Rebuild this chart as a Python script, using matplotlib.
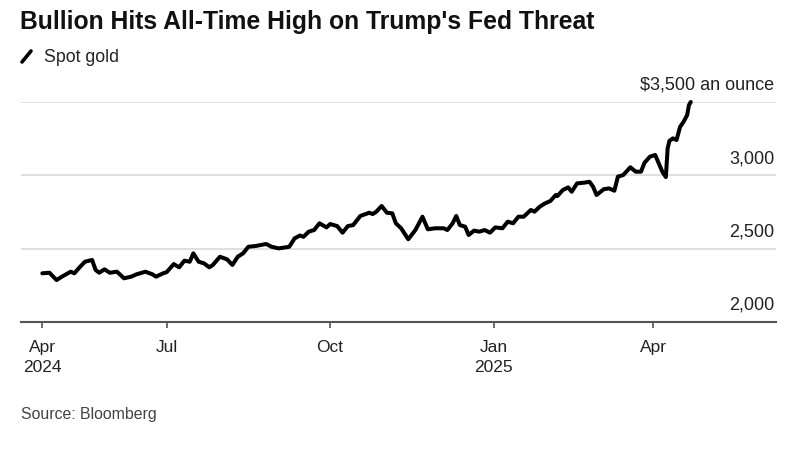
import matplotlib
matplotlib.use("Agg")
import matplotlib.pyplot as plt
import matplotlib.dates as mdates
import matplotlib.transforms as mtransforms
import pandas as pd

# ---------------- data ----------------
dates = [
    "2024-04-22", "2024-04-26", "2024-04-30", "2024-05-03", "2024-05-08", "2024-05-10",
    "2024-05-13", "2024-05-16", "2024-05-20", "2024-05-22", "2024-05-24", "2024-05-27",
    "2024-05-30", "2024-06-03", "2024-06-07", "2024-06-11", "2024-06-14", "2024-06-19",
    "2024-06-23", "2024-06-25", "2024-06-29", "2024-07-01", "2024-07-05", "2024-07-08",
    "2024-07-11", "2024-07-14", "2024-07-16", "2024-07-19", "2024-07-22", "2024-07-25",
    "2024-07-27", "2024-07-31", "2024-08-04", "2024-08-07", "2024-08-10", "2024-08-13",
    "2024-08-16", "2024-08-20", "2024-08-23", "2024-08-26", "2024-08-29", "2024-09-02",
    "2024-09-06", "2024-09-08", "2024-09-11", "2024-09-14", "2024-09-16", "2024-09-19",
    "2024-09-22", "2024-09-25", "2024-09-29", "2024-10-01", "2024-10-05", "2024-10-08",
    "2024-10-11", "2024-10-14", "2024-10-18", "2024-10-21", "2024-10-23", "2024-10-25",
    "2024-10-27", "2024-10-30", "2024-11-02", "2024-11-05", "2024-11-07", "2024-11-10",
    "2024-11-14", "2024-11-18", "2024-11-22", "2024-11-25", "2024-11-29", "2024-12-04",
    "2024-12-06", "2024-12-09", "2024-12-11", "2024-12-13", "2024-12-16", "2024-12-18",
    "2024-12-21", "2024-12-24", "2024-12-27", "2024-12-30", "2025-01-02", "2025-01-06",
    "2025-01-09", "2025-01-12", "2025-01-15", "2025-01-18", "2025-01-22", "2025-01-24",
    "2025-01-27", "2025-01-30", "2025-02-02", "2025-02-05", "2025-02-06", "2025-02-09",
    "2025-02-12", "2025-02-14", "2025-02-17", "2025-02-21", "2025-02-24", "2025-02-26",
    "2025-02-28", "2025-03-04", "2025-03-07", "2025-03-10", "2025-03-12", "2025-03-15",
    "2025-03-19", "2025-03-22", "2025-03-25", "2025-03-27", "2025-03-30", "2025-04-02",
    "2025-04-04", "2025-04-06", "2025-04-08", "2025-04-09", "2025-04-10", "2025-04-12",
    "2025-04-14", "2025-04-16", "2025-04-18", "2025-04-20", "2025-04-21", "2025-04-22",
]
spot_gold = [
    2332, 2336, 2286, 2309, 2343, 2332,
    2373, 2411, 2423, 2355, 2336, 2359,
    2336, 2343, 2298, 2309, 2325, 2343,
    2325, 2309, 2332, 2340, 2395, 2373,
    2418, 2411, 2468, 2411, 2400, 2373,
    2389, 2445, 2427, 2389, 2445, 2468,
    2513, 2518, 2525, 2532, 2513, 2502,
    2509, 2513, 2570, 2590, 2581, 2616,
    2627, 2673, 2645, 2668, 2654, 2609,
    2654, 2661, 2723, 2736, 2745, 2736,
    2752, 2791, 2745, 2741, 2673, 2639,
    2564, 2627, 2718, 2632, 2639, 2639,
    2627, 2673, 2723, 2661, 2650, 2593,
    2623, 2616, 2627, 2609, 2645, 2639,
    2684, 2673, 2718, 2718, 2764, 2752,
    2786, 2809, 2825, 2866, 2859, 2900,
    2918, 2888, 2945, 2950, 2956, 2923,
    2866, 2905, 2911, 2895, 2991, 3002,
    3055, 3025, 3025, 3086, 3127, 3139,
    3082, 3025, 2988, 3184, 3235, 3252,
    3241, 3330, 3366, 3411, 3479, 3500,
]
xtick_dates = ["2024-04-22", "2024-07-01", "2024-10-01", "2025-01-01", "2025-04-01"]
xtick_labels = ["Apr\n2024", "Jul", "Oct", "Jan\n2025", "Apr"]
ytick_values = [2000, 2500, 3000, 3500]
ytick_labels = ["2,000", "2,500", "3,000", "$3,500 an ounce"]

title = "Bullion Hits All-Time High on Trump's Fed Threat"
legend_label = "Spot gold"
source = "Source: Bloomberg"

# ---------------- figure ----------------
plt.rcParams["font.family"] = ["Liberation Sans", "DejaVu Sans"]
W, H = 800, 458
fig = plt.figure(figsize=(W / 100, H / 100), dpi=100)
ax = fig.add_axes([21 / W, (H - 322) / H, (776 - 21) / W, (322 - 102) / H])

x = pd.to_datetime(dates)
ax.plot(x, spot_gold, color="#000000", lw=2.9, solid_joinstyle="round",
        solid_capstyle="round", zorder=3, clip_on=False)

ax.set_ylim(2000, 3500)
ax.set_xlim(pd.Timestamp("2024-04-10"), pd.Timestamp("2025-06-09"))

# gridlines
for v in ytick_values[1:]:
    ax.axhline(v, color="#dcdcdc", lw=1.3, zorder=1)

for s in ["top", "right", "left"]:
    ax.spines[s].set_visible(False)
ax.spines["bottom"].set_color("#555555")
ax.spines["bottom"].set_linewidth(1.5)

ax.set_yticks([])
ax.set_xticks(pd.to_datetime(xtick_dates))
ax.set_xticklabels(xtick_labels, fontsize=12.5, color="#222222",
                   linespacing=1.45, ha="center", multialignment="center")
ax.tick_params(axis="x", direction="out", length=4, width=1.2,
               color="#555555", pad=9)

# y labels above gridlines on the right
ytrans = mtransforms.offset_copy(ax.get_yaxis_transform(), fig=fig, x=-1, y=12, units="points")
for v, lab in zip(ytick_values, ytick_labels):
    ax.text(1.0, v, lab, transform=ytrans, ha="right", va="center",
            fontsize=13, color="#222222")

# title, legend, source
fig.text(20 / W, 1 - 22 / H, title, fontsize=17.8, fontweight="bold",
         color="#111111", ha="left", va="center")
fig.add_artist(plt.Line2D([22 / W, 31 / W], [1 - 62 / H, 1 - 51 / H],
                          color="#000000", lw=2.6, solid_capstyle="round"))
fig.text(44 / W, 1 - 57 / H, legend_label, fontsize=12.8, color="#222222",
         ha="left", va="center")
fig.text(21 / W, 1 - 415 / H, source, fontsize=11.4, color="#444444",
         ha="left", va="center")

fig.savefig("out.png", dpi=100, facecolor="white")
